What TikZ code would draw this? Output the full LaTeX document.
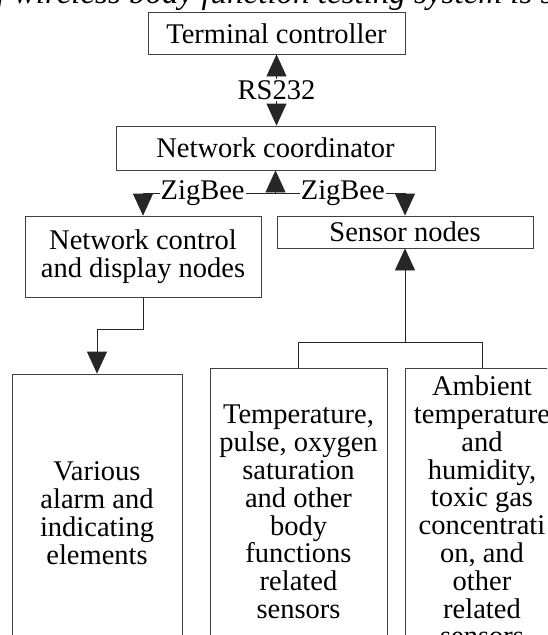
\documentclass[tikz,border=0pt]{standalone}
\usepackage{fontspec}
\setmainfont{Liberation Serif}
\usetikzlibrary{arrows.meta,positioning,calc}
\tikzstyle{bx}=[draw=black!75, line width=0.8pt, inner sep=0pt, align=center, font=\fontsize{28.5}{27.8}\selectfont]
\tikzstyle{lbl}=[fill=white, inner sep=1pt, font=\fontsize{28.5}{28}\selectfont]
\tikzstyle{ln}=[draw=black!85, line width=0.8pt]
\tikzstyle{arr}=[ln, -{Triangle[width=20pt,length=22pt]}]
\tikzstyle{biarr}=[ln, {Triangle[width=20pt,length=22pt]}-{Triangle[width=20pt,length=22pt]}]

\begin{document}
\begin{tikzpicture}[x=1pt, y=-1pt]
        \useasboundingbox (0,0) rectangle (547,635);
        \clip (0,0) rectangle (547,635);
        % caption line, cut by the top edge
        \draw (-7,3.5) node[anchor=base west, font=\itshape\fontsize{33}{35}\selectfont] (cap) {f wireless body function testing system is sh};
        % boxes
        \draw (276.5,33.3) node[bx, minimum width=257pt, minimum height=41.5pt] (term) {Terminal controller};
        \draw (275.5,148) node[bx, minimum width=319pt, minimum height=44pt] (coord) {Network coordinator};
        \draw (143,256.8) node[bx, minimum width=236pt, minimum height=81.5pt] (ctrl) {Network control\\and display nodes};
        \draw (405,232) node[bx, minimum width=256pt, minimum height=32pt] (sens) {Sensor nodes};
        \draw (97,513) node[bx, minimum width=170pt, minimum height=278pt] (alarm) {Various\\alarm and\\indicating\\elements};
        \draw (298.5,512) node[bx, minimum width=177pt, minimum height=288pt] (body) {Temperature,\\pulse, oxygen\\saturation\\and other\\body\\functions\\related\\sensors};
        \draw (482,511) node[bx, minimum width=154pt, minimum height=286pt] (env) {Ambient\\temperature\\and\\humidity,\\toxic gas\\concentrati\\on, and\\other\\related\\sensors};
        % links
        \draw[biarr] (term.south) -- node[lbl]{RS232} (term.south |- coord.north);
        \coordinate (zb) at ($(coord.south)+(0,22.5)$);
        \draw[arr] (zb) -- (coord);
        \draw[arr] (zb) -- node[lbl, pos=0.55]{ZigBee} (zb -| ctrl) -- (ctrl);
        \draw[arr] (zb) -- node[lbl, pos=0.52]{ZigBee} (zb -| sens) -- (sens);
        \draw[arr] (ctrl.south) -- ++(0,31.5) -| (alarm.north);
        \coordinate (br) at ($(body.north)+(0,-25)$);
        \draw[ln] (body.north) -- (br) -| (env.north);
        \draw[arr] (br -| sens) -- (sens);
\end{tikzpicture}
\end{document}
